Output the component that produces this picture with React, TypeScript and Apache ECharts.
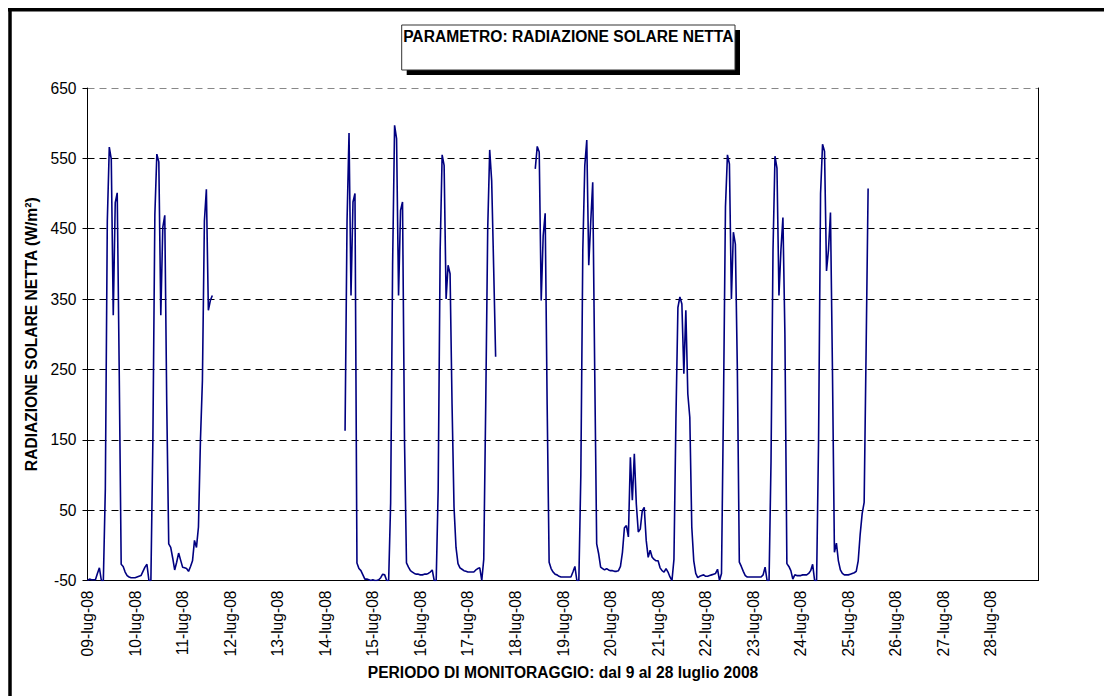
import React, { useEffect, useRef } from 'react';
import * as echarts from 'echarts';

const dayLabels = [
  '09-lug-08', '10-lug-08', '11-lug-08', '12-lug-08', '13-lug-08', '14-lug-08', '15-lug-08',
  '16-lug-08', '17-lug-08', '18-lug-08', '19-lug-08', '20-lug-08', '21-lug-08', '22-lug-08',
  '23-lug-08', '24-lug-08', '25-lug-08', '26-lug-08', '27-lug-08', '28-lug-08',
];

// hourly values (W/m²), index = hour of the day; null / missing = no data
const d09 = [-50, -48, -49, -49, -49, -40, -32, -50, -50, 80, 461, 566, 549, 327, 487, 501, 250, -27, -30, -38, -43, -45, -46, -46];
const d10 = [-46, -45, -44, -43, -37, -31, -27, -50, -50, 150, 470, 556, 545, 327, 452, 469, 200, 2, -3, -18, -35, -24, -11, -21];
const d11 = [-31, -32, -33, -37, -30, -22, 7, -3, 26, 149, 234, 461, 506, 334, 348, 355];
const d12: (number | null)[] = [];
const d13: (number | null)[] = [];
const d14 = [null, null, null, null, null, null, null, null, null, null, 163, 461, 586, 355, 488, 500, -25, -33, -36, -42, -48, -48, -49, -50];
const d15 = [-49, -50, -50, -49, -46, -41, -42, -50, -50, 60, 400, 597, 578, 355, 476, 488, 150, -25, -31, -36, -38, -40, -41, -41];
const d16 = [-42, -42, -41, -41, -40, -38, -35, -50, -50, 80, 420, 555, 540, 350, 398, 386, 200, 54, -3, -26, -32, -34, -36, -37];
const d17 = [-38, -38, -38, -38, -35, -33, -32, -50, -20, 200, 450, 562, 518, 395, 268];
const d18 = [null, null, null, null, null, null, null, null, null, null, 535, 567, 559, 348, 440, 472, 200, -24, -33, -38, -41, -42, -44, -45];
const d19 = [-45, -45, -45, -45, -45, -38, -30, -50, -50, 100, 420, 540, 576, 398, 460, 516, 250, 2, -12, -31, -33, -35, -33, -35];
const d20 = [-36, -36, -37, -37, -36, -30, -10, 25, 28, 12, 125, 64, 130, 59, 19, 23, 49, 54, 7, -17, -7, -17, -20, -22];
const d21 = [-22, -32, -36, -38, -33, -38, -45, -50, -20, 180, 338, 353, 343, 244, 334, 215, 182, 26, -22, -40, -46, -44, -43, -42];
const d22 = [-44, -44, -43, -42, -41, -40, -34, -50, -40, 200, 481, 555, 542, 350, 445, 428, 250, -24, -30, -37, -43, -45, -45, -45];
const d23 = [-45, -45, -45, -45, -45, -42, -31, -50, -50, 120, 420, 553, 536, 355, 420, 466, 300, -26, -30, -36, -48, -42, -43, -43];
const d24 = [-43, -42, -42, -42, -40, -36, -27, -50, -50, 150, 500, 570, 560, 390, 420, 473, 250, -10, 3, -22, -35, -40, -42, -42];
const d25 = [-42, -41, -40, -39, -37, -22, 16, 45, 61, 280, 507];
const d26: (number | null)[] = [];
const d27: (number | null)[] = [];
const d28: (number | null)[] = [];

const days: (number | null)[][] = [d09, d10, d11, d12, d13, d14, d15, d16, d17, d18, d19, d20, d21, d22, d23, d24, d25, d26, d27, d28];

const TITLE = 'PARAMETRO: RADIAZIONE SOLARE NETTA';
const Y_NAME = 'RADIAZIONE SOLARE NETTA (W/m²)';
const X_NAME = 'PERIODO DI MONITORAGGIO: dal 9 al 28 luglio 2008';

export default function App() {
  const ref = useRef<HTMLDivElement>(null);

  useEffect(() => {
    if (!ref.current) return;
    const chart = echarts.init(ref.current, undefined, { renderer: 'svg' });
    const font = "'Liberation Sans', Arial, Helvetica, sans-serif";
    const fs = 15.6;

    const seriesData: any[] = [];
    days.forEach((arr, d) => {
      for (let h = 0; h < 24; h++) {
        const v = arr[h];
        seriesData.push([d * 24 + h, v == null ? '-' : v]);
      }
    });

    const option: any = {
      animation: false,
      textStyle: { fontFamily: font },
      grid: { left: 79.5, right: 73.5, top: 80, bottom: 115.5, containLabel: false },
      xAxis: {
        type: 'value',
        min: 0,
        max: 480,
        interval: 24,
        axisLine: { show: true, onZero: false, lineStyle: { color: '#000', width: 1 } },
        axisTick: { show: false },
        splitLine: { show: false },
        axisLabel: {
          rotate: 90,
          margin: 10,
          fontSize: fs,
          color: '#000',
          fontFamily: font,
          formatter: (v: number) => dayLabels[Math.round(v / 24)] ?? '',
        },
        name: X_NAME,
        nameLocation: 'middle',
        nameGap: 82,
        nameTextStyle: { fontWeight: 'bold', fontSize: fs, color: '#000', fontFamily: font },
      },
      yAxis: [
        {
          type: 'value',
          min: -50,
          max: 650,
          interval: 100,
          axisLine: { show: true, lineStyle: { color: '#000', width: 1 } },
          axisTick: { show: true, length: 5, lineStyle: { color: '#000' } },
          axisLabel: { margin: 11, fontSize: fs, color: '#000', fontFamily: font },
          splitLine: {
            show: true,
            lineStyle: {
              type: [7, 5],
              width: 1,
              color: ['#000', '#000', '#000', '#000', '#000', '#000', '#000', '#888'],
            },
          },
          name: Y_NAME,
          nameLocation: 'middle',
          nameRotate: 90,
          nameGap: 40,
          nameTextStyle: { fontWeight: 'bold', fontSize: fs, color: '#000', fontFamily: font },
        },
        {
          type: 'value',
          min: -50,
          max: 650,
          interval: 100,
          position: 'right',
          axisLine: { show: true, lineStyle: { color: '#000', width: 1 } },
          axisTick: { show: false },
          axisLabel: { show: false },
          splitLine: { show: false },
        },
      ],
      series: [
        {
          type: 'line',
          data: seriesData,
          yAxisIndex: 0,
          showSymbol: false,
          symbol: 'none',
          connectNulls: false,
          lineStyle: { color: '#000080', width: 1.6 },
          z: 3,
        },
      ],
      graphic: [
        { type: 'line', shape: { x1: 2, y1: 0, x2: 2, y2: 700 }, style: { stroke: '#000', lineWidth: 3.5 }, z: 100 },
        { type: 'line', shape: { x1: 0, y1: 1.7, x2: 1110, y2: 1.7 }, style: { stroke: '#000', lineWidth: 3.5 }, z: 100 },
        { type: 'rect', shape: { x: 398.7, y: 22, width: 333.3, height: 45 }, style: { fill: '#000' }, z: 100 },
        { type: 'rect', shape: { x: 393.7, y: 17, width: 333.3, height: 45 }, style: { fill: '#fff', stroke: '#333', lineWidth: 1 }, z: 101 },
        {
          type: 'text',
          x: 560.3,
          y: 28.5,
          style: {
            text: TITLE,
            fontFamily: font,
            fontWeight: 'bold',
            fontSize: fs,
            fill: '#000',
            align: 'center',
            verticalAlign: 'middle',
          },
          z: 102,
        },
      ],
    };

    chart.setOption(option);
    return () => chart.dispose();
  }, []);

  return <div ref={ref} style={{ width: 1104, height: 688 }} />;
}
